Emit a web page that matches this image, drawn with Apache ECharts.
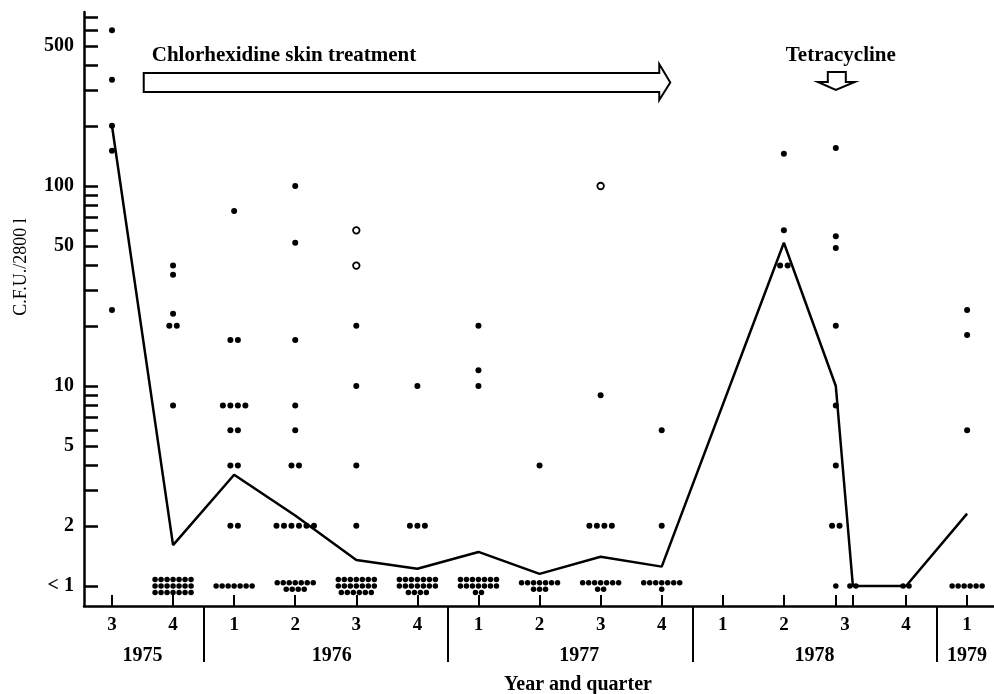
<!DOCTYPE html>
<html>
<head>
<meta charset="utf-8">
<script src="https://cdn.jsdelivr.net/npm/echarts@6/dist/echarts.min.js"></script>
<style>
  html, body { margin: 0; padding: 0; background: #fff; }
  #chart { width: 994px; height: 694px; }
</style>
</head>
<body>
<div id="chart"></div>
<script>
// quarters are indexed from 0 (1975 Q3) to 14 (1979 Q1)
const quarterPos = [0, 1, 2, 3, 4, 5, 6, 7, 8, 9, 10, 11, 12, 13, 14]
const quarterLabels = ['3', '4', '1', '2', '3', '4', '1', '2', '3', '4', '1', '2', '3', '4', '1']
const quarterTicks = [0, 1, 2, 3, 4, 5, 6, 7, 8, 9, 10, 11, 11.85, 12.13, 13, 14]
const yearPos = [0.5, 3.6, 7.65, 11.5, 14]
const yearLabels = ['1975', '1976', '1977', '1978', '1979']
const yearBreaks = [1.5, 5.5, 9.5, 13.5]

const yTickValues = [1, 2, 3, 4, 5, 6, 7, 8, 9, 10, 20, 30, 40, 50, 60, 70, 80, 90, 100, 200, 300, 400, 500, 600, 700]
const yLabelValues = [1, 2, 5, 10, 50, 100, 500]
const yLabelTexts = ['< 1', '2', '5', '10', '50', '100', '500']
const yLogMin = -0.1
const yLogMax = 2.87

// individual counts per sampling column
const dotX = [0, 1, 2, 3, 4, 5, 6, 7, 8, 9, 11, 11.85, 12.13, 13, 14]
const dotValues = [
  [600, 340, 200, 150, 24],
  [40, 36, 23, 20, 20, 8],
  [75, 17, 17, 8, 8, 8, 8, 6, 6, 4, 4, 2, 2],
  [100, 52, 17, 8, 6, 4, 4, 2, 2, 2, 2, 2, 2],
  [20, 10, 4, 2],
  [10, 2, 2, 2],
  [20, 12, 10],
  [4],
  [9, 2, 2, 2, 2],
  [6, 2],
  [145, 60, 40, 40],
  [155, 56, 49, 20, 8, 4, 2, 2],
  [],
  [],
  [24, 18, 6]
]
const belowOneCounts = [0, 21, 7, 11, 20, 18, 16, 10, 9, 8, 0, 1, 2, 2, 6]

// open circles
const openX = [4, 4, 8]
const openValues = [60, 40, 100]

// mean line
const lineX = [0, 1, 2, 3, 4, 5, 6, 7, 8, 9, 11, 11.85, 12.13, 13, 14]
const lineValues = [200, 1.6, 3.6, 2.25, 1.35, 1.22, 1.48, 1.15, 1.4, 1.25, 52, 10, 1, 1, 2.3]

// treatment annotations
const treatmentSpan = [0.52, 9.14]
const treatmentLevel = 329
const tetracyclineAt = 11.85
const tetracyclineLevel = 302

const serif = '"Liberation Serif", "Times New Roman", serif'

function spread(n, gap) {
  return Array.from({ length: n }, (_, i) => (i - (n - 1) / 2) * gap)
}

const filledDots = []
dotX.forEach((x, g) => {
  const counts = {}
  dotValues[g].forEach((v) => { counts[v] = (counts[v] || 0) + 1 })
  Object.keys(counts).forEach((k) => {
    spread(counts[k], 7.5).forEach((dx) => {
      filledDots.push({ value: [x, Number(k)], symbolOffset: [dx, 0] })
    })
  })
  const n = belowOneCounts[g]
  if (n) {
    const cols = Math.min(n, 7)
    const rows = Math.ceil(n / cols)
    for (let r = 0; r < rows; r++) {
      const inRow = Math.min(cols, n - r * cols)
      const dy = (r - (rows - 1) / 2) * 6.5
      spread(inRow, 6).forEach((dx) => {
        filledDots.push({ value: [x, 1], symbolOffset: [dx, dy], symbolSize: 5.5 })
      })
    }
  }
})

const openDots = openX.map((x, i) => [x, openValues[i]])
const lineData = lineX.map((x, i) => [x, lineValues[i]])

function findLabel(list, texts, v) {
  const i = list.findIndex((p) => Math.abs(p - v) < 1e-6)
  return i < 0 ? '' : texts[i]
}

const xMin = -0.458
const xMax = 14.44

const chart = echarts.init(document.getElementById('chart'))
chart.setOption({
  animation: false,
  backgroundColor: '#fff',
  grid: { left: 84, right: 0, top: 12, bottom: 88, outerBoundsMode: 'none' },
  xAxis: [
    {
      type: 'value', position: 'bottom', min: xMin, max: xMax,
      splitLine: { show: false },
      axisLine: { show: true, onZero: false, lineStyle: { color: '#000', width: 2.5 } },
      axisTick: { show: true, inside: true, length: 11, customValues: quarterTicks, lineStyle: { color: '#000', width: 2 } },
      axisLabel: {
        customValues: quarterPos, margin: 10, color: '#000',
        fontFamily: serif, fontWeight: 'bold', fontSize: 19,
        formatter: (v) => findLabel(quarterPos, quarterLabels, v)
      }
    },
    {
      type: 'value', position: 'bottom', min: xMin, max: xMax,
      splitLine: { show: false },
      axisLine: { show: false, onZero: false },
      axisTick: { show: true, inside: false, length: 56, customValues: yearBreaks, lineStyle: { color: '#000', width: 2 } },
      axisLabel: {
        customValues: yearPos, margin: 40, color: '#000',
        fontFamily: serif, fontWeight: 'bold', fontSize: 20,
        formatter: (v) => findLabel(yearPos, yearLabels, v)
      }
    }
  ],
  yAxis: [
    {
      type: 'log', show: false,
      min: Math.pow(10, yLogMin), max: Math.pow(10, yLogMax)
    },
    {
      type: 'value', position: 'left', min: yLogMin, max: yLogMax,
      splitLine: { show: false },
      axisLine: { show: true, onZero: false, lineStyle: { color: '#000', width: 2.5 } },
      axisTick: { show: true, inside: true, length: 14, customValues: yTickValues.map(Math.log10), lineStyle: { color: '#000', width: 2.5 } },
      axisLabel: {
        customValues: yLabelValues.map(Math.log10), margin: 10, color: '#000',
        fontFamily: serif, fontWeight: 'bold', fontSize: 20,
        formatter: (v) => findLabel(yLabelValues.map(Math.log10), yLabelTexts, v)
      }
    }
  ],
  graphic: [
    {
      type: 'text', x: 21, y: 267, rotation: Math.PI / 2,
      style: { text: 'C.F.U./2800 l', font: '18px ' + serif, fill: '#000', align: 'center', verticalAlign: 'middle' }
    },
    {
      type: 'text', x: 578, y: 685,
      style: { text: 'Year and quarter', font: 'bold 20px ' + serif, fill: '#000', align: 'center', verticalAlign: 'middle' }
    }
  ],
  series: [
    {
      type: 'line', xAxisIndex: 0, yAxisIndex: 0, data: lineData,
      symbol: 'none', lineStyle: { color: '#000', width: 2.5 }, z: 2
    },
    {
      type: 'scatter', xAxisIndex: 0, yAxisIndex: 0, data: filledDots,
      symbol: 'circle', symbolSize: 6, itemStyle: { color: '#000', opacity: 1 }, z: 3
    },
    {
      type: 'scatter', xAxisIndex: 0, yAxisIndex: 0, data: openDots,
      symbol: 'circle', symbolSize: 6.5,
      itemStyle: { color: '#fff', borderColor: '#000', borderWidth: 1.8, opacity: 1 }, z: 3
    },
    {
      type: 'custom', xAxisIndex: 0, yAxisIndex: 0, z: 4,
      data: [[treatmentSpan[0], treatmentSpan[1], treatmentLevel]],
      renderItem: (params, api) => {
        const a = api.coord([api.value(0), api.value(2)])
        const b = api.coord([api.value(1), api.value(2)])
        const h = 9.5
        const hx = 11
        return {
          type: 'group',
          children: [
            {
              type: 'polygon',
              shape: {
                points: [
                  [a[0], a[1] - h], [b[0] - hx, a[1] - h], [b[0] - hx, a[1] - h - 9],
                  [b[0], a[1]], [b[0] - hx, a[1] + h + 8], [b[0] - hx, a[1] + h], [a[0], a[1] + h]
                ]
              },
              style: { fill: '#fff', stroke: '#000', lineWidth: 2 }
            },
            {
              type: 'text', x: a[0] + 8, y: a[1] - 27,
              style: { text: 'Chlorhexidine skin treatment', font: 'bold 21px ' + serif, fill: '#000', align: 'left', verticalAlign: 'middle' }
            }
          ]
        }
      }
    },
    {
      type: 'custom', xAxisIndex: 0, yAxisIndex: 0, z: 4,
      data: [[tetracyclineAt, tetracyclineLevel]],
      renderItem: (params, api) => {
        const t = api.coord([api.value(0), api.value(1)])
        return {
          type: 'group',
          children: [
            {
              type: 'polygon',
              shape: {
                points: [
                  [t[0] - 8, t[1] - 18], [t[0] + 10, t[1] - 18], [t[0] + 10, t[1] - 8],
                  [t[0] + 19, t[1] - 8], [t[0], t[1]], [t[0] - 18, t[1] - 8], [t[0] - 8, t[1] - 8]
                ]
              },
              style: { fill: '#fff', stroke: '#000', lineWidth: 2 }
            },
            {
              type: 'text', x: t[0] + 5, y: t[1] - 34,
              style: { text: 'Tetracycline', font: 'bold 21px ' + serif, fill: '#000', align: 'center', verticalAlign: 'middle' }
            }
          ]
        }
      }
    }
  ]
})
</script>
</body>
</html>
